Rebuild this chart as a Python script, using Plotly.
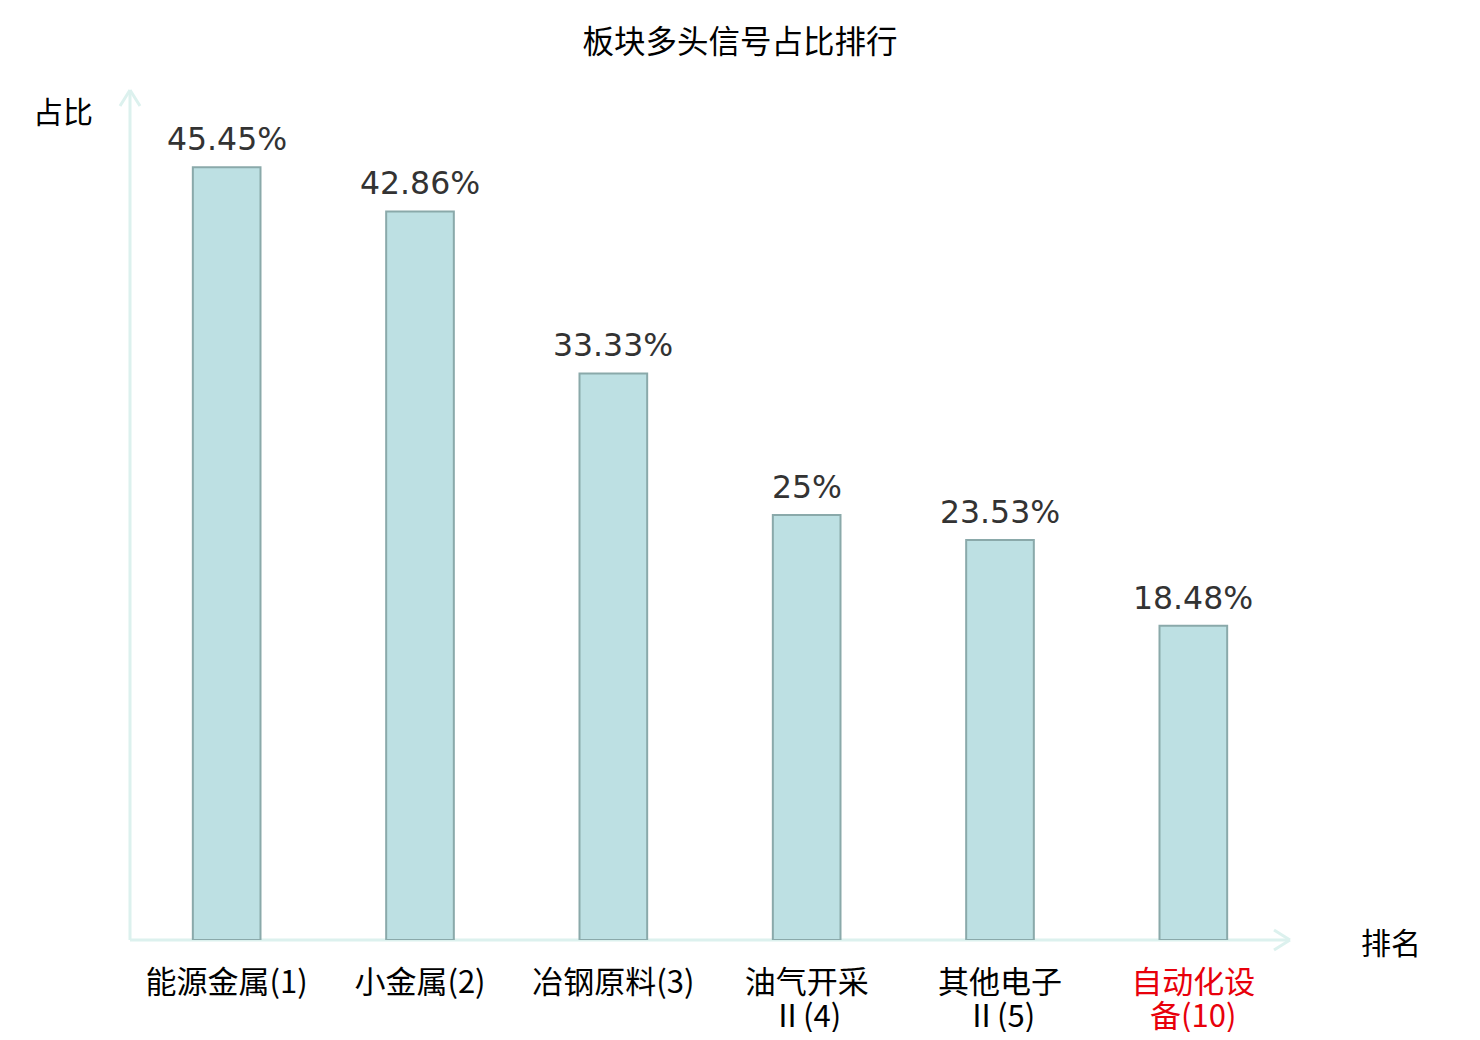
import plotly.graph_objects as go

# Data
sectors = ["能源金属(1)", "小金属(2)", "冶钢原料(3)", "油气开采", "其他电子", "自动化设"]
sector_line2 = ["", "", "", "Ⅱ(4)", "Ⅱ(5)", "备(10)"]
highlight = [False, False, False, False, False, True]
ratios = [45.45, 42.86, 33.33, 25, 23.53, 18.48]
ratio_labels = ["45.45%", "42.86%", "33.33%", "25%", "23.53%", "18.48%"]

font_family = "DejaVu Sans, Noto Sans CJK SC, sans-serif"
cjk_family = "Noto Sans CJK SC, sans-serif"
axis_color = "#dcf1ee"
red = "#e8000b"

xs = list(range(len(sectors)))

fig = go.Figure()
fig.add_trace(go.Bar(
    x=xs,
    y=ratios,
    cliponaxis=False,
    width=0.35,
    marker=dict(color="#bde0e3", line=dict(color="#8aa9aa", width=2)),
))

# plot area size in px
W, H = 1160, 850
ax = 10 / W
ay = 16 / H
bx = 16 / W
by = 10 / H
shapes = [
    dict(type="line", xref="paper", yref="paper", x0=0, y0=0, x1=1, y1=0),
    dict(type="line", xref="paper", yref="paper", x0=0, y0=0, x1=0, y1=1),
    dict(type="line", xref="paper", yref="paper", x0=-ax, y0=1 - ay, x1=0, y1=1),
    dict(type="line", xref="paper", yref="paper", x0=ax, y0=1 - ay, x1=0, y1=1),
    dict(type="line", xref="paper", yref="paper", x0=1 - bx, y0=by, x1=1, y1=0),
    dict(type="line", xref="paper", yref="paper", x0=1 - bx, y0=-by, x1=1, y1=0),
]
for s in shapes:
    s["line"] = dict(color=axis_color, width=3)
    s["layer"] = "below"

annotations = [
    dict(text="占比", xref="paper", yref="paper", x=-67 / W, y=1 - 20 / H,
         xanchor="center", yanchor="middle", showarrow=False,
         font=dict(size=30, family=cjk_family, color="#000000")),
    dict(text="排名", xref="paper", yref="paper", x=1 + 101 / W, y=-1 / H,
         xanchor="center", yanchor="middle", showarrow=False,
         font=dict(size=30, family=cjk_family, color="#000000")),
]
# value labels above bars
for x, v, lab in zip(xs, ratios, ratio_labels):
    annotations.append(dict(text=lab, x=x, y=v, xref="x", yref="y",
                            xanchor="center", yanchor="bottom", yshift=8,
                            showarrow=False,
                            font=dict(size=31.5, color="#333333", family=font_family)))
# second lines of wrapped category labels
for x, t, hl in zip(xs, sector_line2, highlight):
    if t:
        annotations.append(dict(text=t, x=x, y=-73 / H, xref="x", yref="paper",
                                xanchor="center", yanchor="middle", showarrow=False,
                                borderpad=0,
                                font=dict(size=31, family=cjk_family,
                                          color=red if hl else "#000000")))

ticktext = [f"<span style='color:{red}'>{s}</span>" if hl else s
            for s, hl in zip(sectors, highlight)]

fig.update_layout(
    width=1480,
    height=1024,
    margin=dict(l=122, r=198, t=82, b=92),
    plot_bgcolor="white",
    paper_bgcolor="white",
    font=dict(family=font_family, size=30, color="#000000"),
    title=dict(text="板块多头信号占比排行", x=732 / 1480, xanchor="center",
               y=1 - 34 / 1024, yanchor="middle",
               font=dict(size=31.5, color="#000000", family=cjk_family)),
    showlegend=False,
    shapes=shapes,
    xaxis=dict(
        range=[-0.5, 5.5],
        tickmode="array",
        tickvals=xs,
        ticktext=ticktext,
        showgrid=False,
        zeroline=False,
        showline=False,
        ticks="",
        ticklabelstandoff=21,
        tickfont=dict(size=31, family=cjk_family, color="#000000"),
    ),
    yaxis=dict(range=[0, 50], visible=False),
    annotations=annotations,
)

fig.write_html("out.html")
